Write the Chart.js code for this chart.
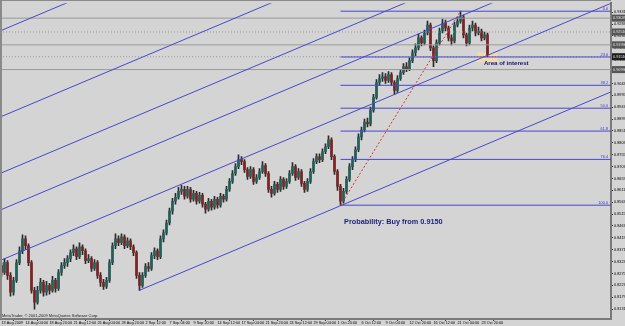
<!DOCTYPE html>
<html>
<head>
<meta charset="utf-8">
<script src="https://cdn.jsdelivr.net/npm/chart.js@4/dist/chart.umd.min.js"></script>
<style>
  html, body { margin: 0; padding: 0; background: #d4d4d4; }
  canvas { display: block; }
</style>
</head>
<body>
<canvas id="chart" width="625" height="326"></canvas>
<script>
// AUDUSD H4, 13 Aug - 23 Oct 2009 (one candle per two H4 bars)
var opens = [
  .8307,.8279,.8319,.8267,.8199,.8247,.8319,.8367,.8415,.8387,
  .8319,.8207,.8159,.8207,.8239,.8199,.8227,.8207,.8247,.8215,
  .8279,.8307,.8319,.8335,.8359,.8375,.8343,.8383,.8367,.8327,
  .8335,.8295,.8319,.8267,.8239,.8223,.8247,.8319,.8387,.8415,
  .8399,.8423,.8387,.8407,.8383,.8359,.8267,.8227,.8267,.8303,
  .8295,.8347,.8367,.8343,.8415,.8439,.8479,.8527,.8567,.8583,
  .8607,.8615,.8587,.8615,.8575,.8599,.8567,.8591,.8555,.8535,
  .8567,.8543,.8575,.8551,.8587,.8575,.8615,.8647,.8679,.8707,
  .8735,.8727,.8695,.8667,.8695,.8647,.8663,.8687,.8711,.8679,
  .8615,.8599,.8635,.8615,.8655,.8627,.8647,.8679,.8707,.8663,
  .8687,.8639,.8615,.8647,.8687,.8727,.8747,.8735,.8767,.8787,
  .8815,.8747,.8687,.8627,.8567,.8607,.8655,.8707,.8735,.8775,
  .8827,.8855,.8887,.8879,.8935,.8987,.9047,.9063,.9071,.9055,
  .9079,.9047,.9015,.9063,.9087,.9111,.9103,.9135,.9167,.9187,
  .9227,.9207,.9247,.9279,.9187,.9135,.9207,.9255,.9287,.9267,
  .9227,.9215,.9279,.9295,.9311,.9239,.9207,.9267,.9279,.9247,
  .9255,.9227,.9239
];
var highs = [
  .8319,.8335,.8327,.8279,.8259,.8331,.8383,.8431,.8427,.8395,
  .8327,.8219,.8223,.8255,.8247,.8243,.8235,.8263,.8255,.8291,
  .8319,.8335,.8347,.8371,.8391,.8383,.8399,.8391,.8375,.8351,
  .8343,.8331,.8327,.8279,.8251,.8259,.8331,.8399,.8435,.8427,
  .8435,.8431,.8419,.8415,.8391,.8367,.8279,.8279,.8315,.8319,
  .8359,.8379,.8375,.8427,.8451,.8491,.8539,.8579,.8599,.8623,
  .8631,.8627,.8627,.8623,.8611,.8607,.8603,.8599,.8563,.8579,
  .8575,.8587,.8583,.8599,.8595,.8627,.8659,.8691,.8719,.8755,
  .8747,.8735,.8703,.8707,.8703,.8675,.8699,.8727,.8719,.8687,
  .8627,.8647,.8643,.8667,.8663,.8659,.8691,.8723,.8715,.8699,
  .8695,.8647,.8659,.8699,.8739,.8759,.8759,.8779,.8799,.8831,
  .8823,.8755,.8695,.8635,.8619,.8667,.8719,.8747,.8787,.8839,
  .8867,.8899,.8903,.8947,.8999,.9059,.9079,.9087,.9083,.9091,
  .9087,.9055,.9075,.9099,.9123,.9127,.9147,.9179,.9203,.9243,
  .9235,.9259,.9295,.9287,.9195,.9219,.9267,.9303,.9299,.9275,
  .9239,.9291,.9311,.9335,.9319,.9247,.9279,.9295,.9287,.9271,
  .9263,.9251,.9247
];
var lows = [
  .8263,.8271,.8251,.8183,.8187,.8239,.8311,.8355,.8371,.8307,
  .8195,.8131,.8151,.8195,.8183,.8187,.8191,.8199,.8199,.8207,
  .8267,.8295,.8303,.8323,.8347,.8331,.8335,.8351,.8315,.8319,
  .8283,.8287,.8255,.8223,.8211,.8215,.8239,.8311,.8375,.8387,
  .8391,.8375,.8379,.8371,.8347,.8255,.8207,.8219,.8259,.8283,
  .8287,.8335,.8331,.8335,.8403,.8431,.8471,.8515,.8555,.8575,
  .8595,.8575,.8579,.8563,.8567,.8555,.8559,.8543,.8519,.8527,
  .8531,.8535,.8539,.8543,.8563,.8567,.8607,.8639,.8671,.8699,
  .8715,.8683,.8655,.8659,.8635,.8639,.8655,.8679,.8667,.8603,
  .8583,.8591,.8603,.8607,.8615,.8619,.8639,.8671,.8651,.8655,
  .8627,.8603,.8607,.8639,.8679,.8719,.8723,.8727,.8759,.8779,
  .8735,.8675,.8611,.8551,.8559,.8599,.8647,.8695,.8727,.8767,
  .8815,.8847,.8867,.8871,.8927,.8979,.9035,.9051,.9043,.9047,
  .9035,.8999,.9007,.9055,.9079,.9091,.9095,.9127,.9155,.9179,
  .9195,.9199,.9239,.9175,.9111,.9127,.9199,.9247,.9255,.9215,
  .9199,.9207,.9271,.9287,.9227,.9195,.9199,.9255,.9235,.9239,
  .9215,.9219,.9151
];
var closes = [
  .8279,.8319,.8267,.8199,.8247,.8319,.8367,.8415,.8387,.8319,
  .8207,.8159,.8207,.8239,.8199,.8227,.8207,.8247,.8215,.8279,
  .8307,.8319,.8335,.8359,.8375,.8343,.8383,.8367,.8327,.8335,
  .8295,.8319,.8267,.8239,.8223,.8247,.8319,.8387,.8415,.8399,
  .8423,.8387,.8407,.8383,.8359,.8267,.8227,.8267,.8303,.8295,
  .8347,.8367,.8343,.8415,.8439,.8479,.8527,.8567,.8583,.8607,
  .8615,.8587,.8615,.8575,.8599,.8567,.8591,.8555,.8535,.8567,
  .8543,.8575,.8551,.8587,.8575,.8615,.8647,.8679,.8707,.8735,
  .8727,.8695,.8667,.8695,.8647,.8663,.8687,.8711,.8679,.8615,
  .8599,.8635,.8615,.8655,.8627,.8647,.8679,.8707,.8663,.8687,
  .8639,.8615,.8647,.8687,.8727,.8747,.8735,.8767,.8787,.8815,
  .8747,.8687,.8627,.8567,.8607,.8655,.8707,.8735,.8775,.8827,
  .8855,.8887,.8879,.8935,.8987,.9047,.9063,.9071,.9055,.9079,
  .9047,.9015,.9063,.9087,.9111,.9103,.9135,.9167,.9187,.9227,
  .9207,.9247,.9279,.9187,.9135,.9207,.9255,.9287,.9267,.9227,
  .9215,.9279,.9295,.9311,.9239,.9207,.9267,.9279,.9247,.9255,
  .9227,.9239,.9159
];

var timeLabels = ['13 Aug 2009','14 Aug 04:00','18 Aug 20:00','21 Aug 12:00','26 Aug 04:00',
  '28 Aug 20:00','2 Sep 12:00','7 Sep 04:00','9 Sep 20:00','14 Sep 12:00','17 Sep 04:00',
  '21 Sep 20:00','24 Sep 12:00','29 Sep 04:00','1 Oct 20:00','6 Oct 12:00','9 Oct 04:00',
  '12 Oct 20:00','16 Oct 12:00','21 Oct 04:00','23 Oct 20:00'];
var priceTicks = [0.9331,0.9283,0.9235,0.9187,0.9139,0.9091,0.9043,0.8995,0.8947,0.8899,
  0.8851,0.8803,0.8755,0.8707,0.8659,0.8611,0.8563,0.8515,0.8467,0.8419,0.8371,0.8323,
  0.8275,0.8227,0.8179,0.8131];

// fibonacci retracement from the 1 Oct low to the 21 Oct high
var fibRatios = [0, 0.236, 0.382, 0.5, 0.618, 0.764, 1];
var fibNames = ['0.0','23.6','38.2','50.0','61.8','76.4','100.0'];
var fibLowBar = 113, fibHighBar = 153;

// horizontal lines and channel lines [barA, priceA, barB, priceB]
var hLevels = [0.9307, 0.9251, 0.9199, 0.9151, 0.9099];
var hDotted = [false, true, false, true, false];
var channels = [
  [-0.5, 0.9255, 203.2, 1.0295],
  [-0.5, 0.8907, 203.2, 0.9947],
  [-0.5, 0.8679, 203.2, 0.9719],
  [-0.5, 0.8531, 203.2, 0.9571],
  [-0.5, 0.8327, 203.2, 0.9367],
  [46, 0.8207, 203.2, 0.9009]
];

var X_MIN = -0.5, X_MAX = 203.17, Y_MIN = 0.8091, Y_MAX = 0.9367;
var bullColor = '#24605a', bearColor = '#7c2424', wickColor = '#2a2a2a';
var blue = '#4848cc';
var tiny = { size: 3.8, family: 'Liberation Sans' };

var wickData = [], bodyData = [], bodyColors = [];
for (var i = 0; i < closes.length; i++) {
  wickData.push({ x: i, y: [lows[i], highs[i]] });
  bodyData.push({ x: i, y: [opens[i], closes[i]] });
  bodyColors.push(closes[i] >= opens[i] ? bullColor : bearColor);
}

function seg(x0, y0, x1, y1, color, dash, order) {
  return {
    type: 'line', data: [{ x: x0, y: y0 }, { x: x1, y: y1 }],
    borderColor: color, backgroundColor: color, borderWidth: 1, borderDash: dash || [],
    pointRadius: 0, fill: false, order: order
  };
}

var fibHigh = highs[fibHighBar], fibLow = lows[fibLowBar];
var fibPrices = fibRatios.map(function (r) { return fibHigh - r * (fibHigh - fibLow); });

var datasets = [
  { type: 'bar', data: wickData, backgroundColor: wickColor, barThickness: 1, grouped: false, order: 6 },
  { type: 'bar', data: bodyData, backgroundColor: bodyColors, barThickness: 2, grouped: false, order: 5 }
];
hLevels.forEach(function (p, k) {
  datasets.push(seg(X_MIN, p, X_MAX, p, '#9a9a9a', hDotted[k] ? [1, 2] : [], 3));
});
channels.forEach(function (c) {
  datasets.push(seg(c[0], c[1], c[2], c[3], blue, [], 1));
});
fibPrices.forEach(function (p) {
  datasets.push(seg(fibLowBar, p, X_MAX, p, blue, [], 1));
});
datasets.push(seg(fibLowBar, fibLow, fibHighBar, fibHigh, '#d03030', [2, 2], 0));

var overlay = {
  id: 'overlay',
  beforeDatasetsDraw: function (chart) {
    var ctx = chart.ctx, x = chart.scales.x, y = chart.scales.y;
    ctx.save();
    ctx.fillStyle = '#f2d9ae';
    var x0 = x.getPixelForValue(158.6), x1 = x.getPixelForValue(165.3);
    var y0 = y.getPixelForValue(0.9169), y1 = y.getPixelForValue(0.9127);
    ctx.fillRect(x0, y0, x1 - x0, y1 - y0);
    ctx.restore();
  },
  afterDatasetsDraw: function (chart) {
    var ctx = chart.ctx, x = chart.scales.x, y = chart.scales.y, a = chart.chartArea;
    ctx.save();
    // fib level names
    ctx.fillStyle = '#3a3ac0';
    ctx.font = '3.8px "Liberation Sans"';
    ctx.textAlign = 'right';
    ctx.textBaseline = 'bottom';
    fibPrices.forEach(function (p, k) {
      ctx.fillText(fibNames[k], a.right - 3, y.getPixelForValue(p) - 0.5);
    });
    // annotations
    ctx.textAlign = 'left';
    ctx.textBaseline = 'middle';
    ctx.fillStyle = '#141470';
    ctx.font = 'bold 6.1px "Liberation Sans"';
    ctx.fillText('Area of interest', x.getPixelForValue(160.8), y.getPixelForValue(0.9123));
    ctx.fillStyle = '#1e1e78';
    ctx.font = 'bold 7.3px "Liberation Sans"';
    ctx.fillText('Probability: Buy from 0.9150', x.getPixelForValue(114.2), y.getPixelForValue(0.8483));
    ctx.fillStyle = '#202020';
    ctx.font = '4px "Liberation Sans"';
    ctx.textBaseline = 'bottom';
    ctx.fillText('MetaTrader, \u00a9 2001-2009 MetaQuotes Software Corp.', a.left + 2, a.bottom - 1);
    ctx.restore();
  },
  afterDraw: function (chart) {
    var ctx = chart.ctx, y = chart.scales.y, a = chart.chartArea;
    ctx.save();
    ctx.fillStyle = '#8a8a8a';
    ctx.fillRect(0, 0, 2, a.bottom);
    ctx.fillRect(0, 0, a.right, 1);
    ctx.font = '3.8px "Liberation Sans"';
    ctx.textAlign = 'left';
    ctx.textBaseline = 'middle';
    hLevels.forEach(function (p, k) {
      var py = y.getPixelForValue(p);
      ctx.fillStyle = k === 3 ? '#1c1c1c' : '#555555';
      ctx.fillRect(a.right + 1, py - 3.5, 14, 7);
      ctx.fillStyle = '#e0e0e0';
      ctx.fillText(p.toFixed(5), a.right + 2, py);
    });
    ctx.restore();
  }
};

new Chart(document.getElementById('chart').getContext('2d'), {
  type: 'bar',
  data: { datasets: datasets },
  options: {
    responsive: false,
    devicePixelRatio: 1,
    animation: false,
    events: [],
    layout: { padding: 0, autoPadding: false },
    plugins: { legend: { display: false }, tooltip: { enabled: false } },
    scales: {
      x: {
        type: 'linear', min: X_MIN, max: X_MAX, offset: false,
        afterBuildTicks: function (s) { s.ticks = timeLabels.map(function (t, k) { return { value: k * 8 }; }); },
        afterFit: function (s) { s.height = 7; },
        ticks: {
          callback: function (v, idx) { return timeLabels[idx]; },
          align: 'start', maxRotation: 0, autoSkip: false, padding: 0, color: '#000', font: tiny
        },
        grid: { drawOnChartArea: false, drawTicks: true, tickLength: 2, color: '#303030' },
        border: { display: true, color: '#7a7a7a', width: 2 }
      },
      y: {
        position: 'right', min: Y_MIN, max: Y_MAX,
        afterBuildTicks: function (s) { s.ticks = priceTicks.map(function (v) { return { value: v }; }); },
        afterFit: function (s) { s.width = 14; },
        ticks: {
          callback: function (v) { return v.toFixed(5); },
          autoSkip: false, padding: 1, color: '#000', font: tiny
        },
        grid: { drawOnChartArea: false, drawTicks: true, tickLength: 2, color: '#303030' },
        border: { display: true, color: '#7a7a7a', width: 2 }
      }
    }
  },
  plugins: [overlay]
});
</script>
</body>
</html>
